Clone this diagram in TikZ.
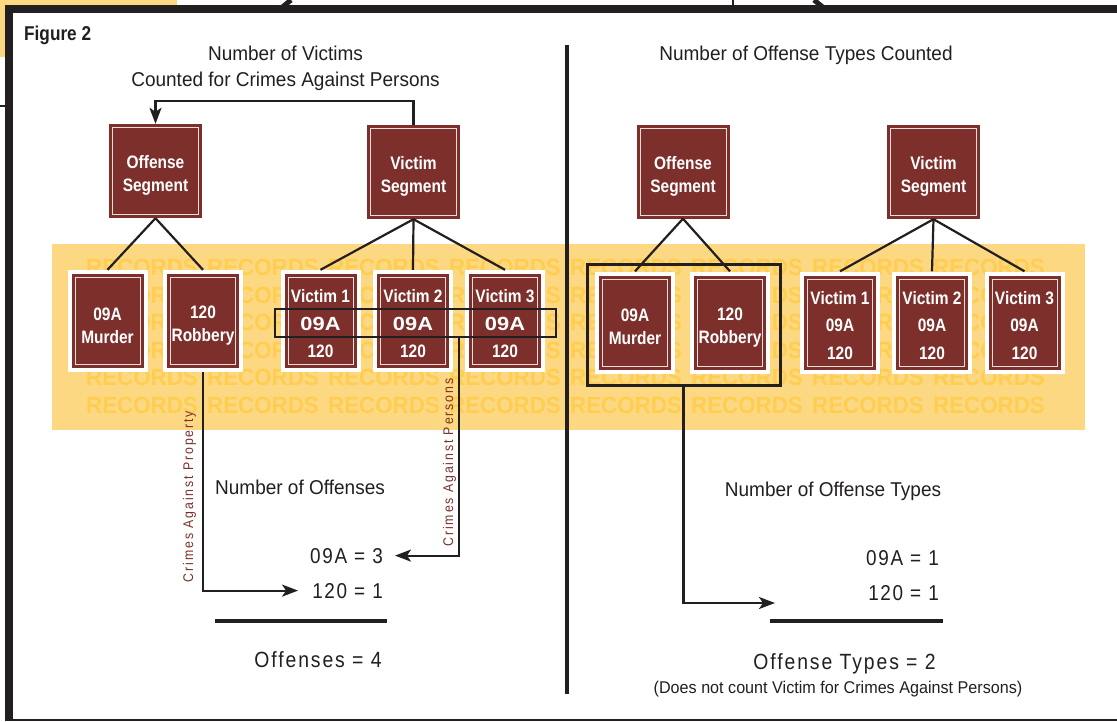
\documentclass[tikz,border=0pt]{standalone}
\usepackage{fontspec}
\setmainfont{Liberation Sans}[FakeStretch=0.95]
\newfontfamily\cond{Liberation Sans}[FakeStretch=0.86]
\newfontfamily\trk{Liberation Sans}[FakeStretch=0.88,LetterSpace=8]
\newfontfamily\trkb{Liberation Sans}[FakeStretch=0.88,LetterSpace=8.7]
\newfontfamily\trkv{Liberation Sans}[FakeStretch=0.88,LetterSpace=13.5]
\newfontfamily\wide{Liberation Sans}[FakeStretch=1.15]
\newfontfamily\wmf{Liberation Sans}[FakeStretch=0.95]
\usetikzlibrary{arrows.meta}
\definecolor{segred}{RGB}{125,48,43}
\definecolor{band}{RGB}{253,216,130}
\definecolor{wmk}{RGB}{255,205,80}
\definecolor{ink}{RGB}{35,31,32}
\definecolor{pale}{RGB}{238,220,216}
\begin{document}
\begin{tikzpicture}[x=1pt,y=-1pt,
  seg/.style={rectangle, inner sep=0pt, minimum width=93pt, minimum height=94pt,
    fill=segred, text=white, align=center,
    font=\cond\bfseries\fontsize{18}{23}\selectfont,
    path picture={\draw[pale, line width=0.9pt]
      ([shift={(3.5pt,3.5pt)}]path picture bounding box.south west) rectangle
      ([shift={(-3.5pt,-3.5pt)}]path picture bounding box.north east);}},
  recbox/.style={rectangle, inner sep=0pt, minimum width=80pt, minimum height=102pt,
    fill=white, text=white, align=center,
    font=\cond\bfseries\fontsize{18}{#1}\selectfont,
    path picture={\fill[segred]
      ([shift={(4pt,4pt)}]path picture bounding box.south west) rectangle
      ([shift={(-4pt,-4pt)}]path picture bounding box.north east);
      \draw[pale, line width=0.9pt]
      ([shift={(7.5pt,7.5pt)}]path picture bounding box.south west) rectangle
      ([shift={(-7.5pt,-7.5pt)}]path picture bounding box.north east);}},
  wmtext/.style={anchor=west, inner sep=0pt, text=wmk,
    font=\wmf\bfseries\fontsize{23.5}{24}\selectfont},
  tree/.style={draw=ink, line width=2.2pt},
  arr/.style={draw=ink, line width=2.2pt, -{Stealth[length=16pt,width=12pt,inset=4pt]}},
  ttl/.style={inner sep=0pt, anchor=base, text=ink, font=\fontsize{20}{24}\selectfont},
  cnt/.style={inner sep=0pt, text=ink, font=\trk\fontsize{21.5}{24}\selectfont},
  tot/.style={inner sep=0pt, anchor=base, text=ink, font=\trkb\fontsize{22}{24}\selectfont},
  vlab/.style={inner sep=0pt, anchor=base, rotate=90, text=segred, font=\trkv\fontsize{14}{16}\selectfont},
  bar/.style={draw=ink, line width=4.5pt}
]
\useasboundingbox (0,0) rectangle (1117,721);
% outer frame
\fill[band] (0,0) rectangle (177,57);
\fill[white] (9,9) rectangle (1117,719);
\draw[ink, line width=8pt] (9,721) -- (9,9) -- (1117,9);
\draw[ink, line width=2pt] (9,719.5) -- (1117,719.5);
\draw[ink, line width=1.2pt] (0,106) -- (5,106);
\draw[ink, line width=5pt] (280,9) -- (291,0);
\draw[ink, line width=5pt] (814,0) -- (825,9);
\draw[ink, line width=1.2pt] (733,0) -- (733,9);

\node[inner sep=0pt, anchor=base west, text=ink, font=\cond\bfseries\fontsize{20}{24}\selectfont] (fig) at (24,40) {Figure 2};

% band with watermark
\fill[band] (52,244) rectangle (1085,430);
\foreach \r [count=\ri] in {267.5,295,322.5,350,377.5,405}{
  \foreach \c in {0,...,7}{
    \node[wmtext] (wm\ri-\c) at (86+121*\c,\r) {RECORDS};
  }
}

% divider
\draw[ink, line width=4pt] (567,45) -- (567,694);

% titles
\node[ttl] (tl1) at (285.5,60) {Number of Victims};
\node[ttl] (tl2) at (285.5,86) {Counted for Crimes Against Persons};
\node[ttl] (tr) at (806,60) {Number of Offense Types Counted};

% left segment boxes
\node[seg] (offL) at (155.5,171) {\rule{0pt}{22pt}Offense\\Segment};
\node[seg] (vicL) at (413.5,172) {\rule{0pt}{22pt}Victim\\Segment};
% right segment boxes
\node[seg] (offR) at (683,171.5) {\rule{0pt}{22pt}Offense\\Segment};
\node[seg] (vicR) at (933.5,172) {\rule{0pt}{22pt}Victim\\Segment};

% left records
\node[recbox=23] (murL) at (107.5,321) {\rule{0pt}{22pt}09A\\Murder};
\node[recbox=23] (robL) at (203,321) {\rule{0pt}{22pt}120\\Robbery};
\node[recbox=27.5] (v1L) at (320.5,321) {\rule{0pt}{19pt}Victim 1\\{\wide\fontsize{19}{23}\selectfont 09A}\\120};
\node[recbox=27.5] (v2L) at (413,321) {\rule{0pt}{19pt}Victim 2\\{\wide\fontsize{19}{23}\selectfont 09A}\\120};
\node[recbox=27.5] (v3L) at (505,321) {\rule{0pt}{19pt}Victim 3\\{\wide\fontsize{19}{23}\selectfont 09A}\\120};
% right records
\node[recbox=23] (murR) at (635,322.5) {\rule{0pt}{22pt}09A\\Murder};
\node[recbox=23] (robR) at (730,322.5) {\rule{0pt}{22pt}120\\Robbery};
\node[recbox=27.5] (v1R) at (840,322.5) {\rule{0pt}{19pt}Victim 1\\09A\\120};
\node[recbox=27.5] (v2R) at (932,322.5) {\rule{0pt}{19pt}Victim 2\\09A\\120};
\node[recbox=27.5] (v3R) at (1024.5,322.5) {\rule{0pt}{19pt}Victim 3\\09A\\120};

% highlight rectangles
\node[draw=ink, line width=2pt, inner sep=0pt, minimum width=281pt, minimum height=28pt] (hl) at (415.5,323) {};
\node[draw=ink, line width=3pt, inner sep=0pt, minimum width=193pt, minimum height=121pt] (br) at (683.5,324.5) {};

% tree connectors
\draw[tree] (offL.south) -- (murL.north);
\draw[tree] (offL.south) -- (robL.north);
\draw[tree] (vicL.south) -- (v1L.north);
\draw[tree] (vicL.south) -- (v2L.north);
\draw[tree] (vicL.south) -- (v3L.north);
\draw[tree] (offR.south) -- (murR.north);
\draw[tree] (offR.south) -- (robR.north);
\draw[tree] (vicR.south) -- (v1R.north);
\draw[tree] (vicR.south) -- (v2R.north);
\draw[tree] (vicR.south) -- (v3R.north);

% victim -> offense arrow
\draw[arr] (vicL.north) -- ++(0,-24) -| (offL.north);

% left counts
\node[ttl] (nol) at (300,494) {Number of Offenses};
\node[cnt, anchor=base east] (nA) at (383,563) {09A = 3};
\node[cnt, anchor=base east] (nB) at (383,598) {120 = 1};
\draw[bar] (215,621) -- (387,621);
\node[tot] (totL) at (318,667) {Offenses = 4};

\coordinate (pA) at (459,0);
\draw[arr] (hl.south -| pA) |- ([xshift=12pt]nA.east);
\draw[arr] (robL.south) |- ([xshift=-14pt]nB.west);
\node[vlab] (labP) at (193,496.5) {Crimes Against Property};
\node[vlab] (labQ) at (453,462.5) {Crimes Against Persons};

% right counts
\node[ttl] (nor) at (833,496) {Number of Offense Types};
\node[cnt, anchor=base east] (rA) at (939,565) {09A = 1};
\node[cnt, anchor=base east] (rB) at (939,600) {120 = 1};
\draw[bar] (770,621) -- (943,621);
\node[tot] (totR) at (844.5,669) {Offense Types = 2};
\node[inner sep=0pt, anchor=base, text=ink, font=\fontsize{17}{20}\selectfont] (note) at (838,693.5) {(Does not count Victim for Crimes Against Persons)};
\coordinate (tipR) at (775,603);
\draw[arr] (br.south) |- (tipR);
\end{tikzpicture}
\end{document}
